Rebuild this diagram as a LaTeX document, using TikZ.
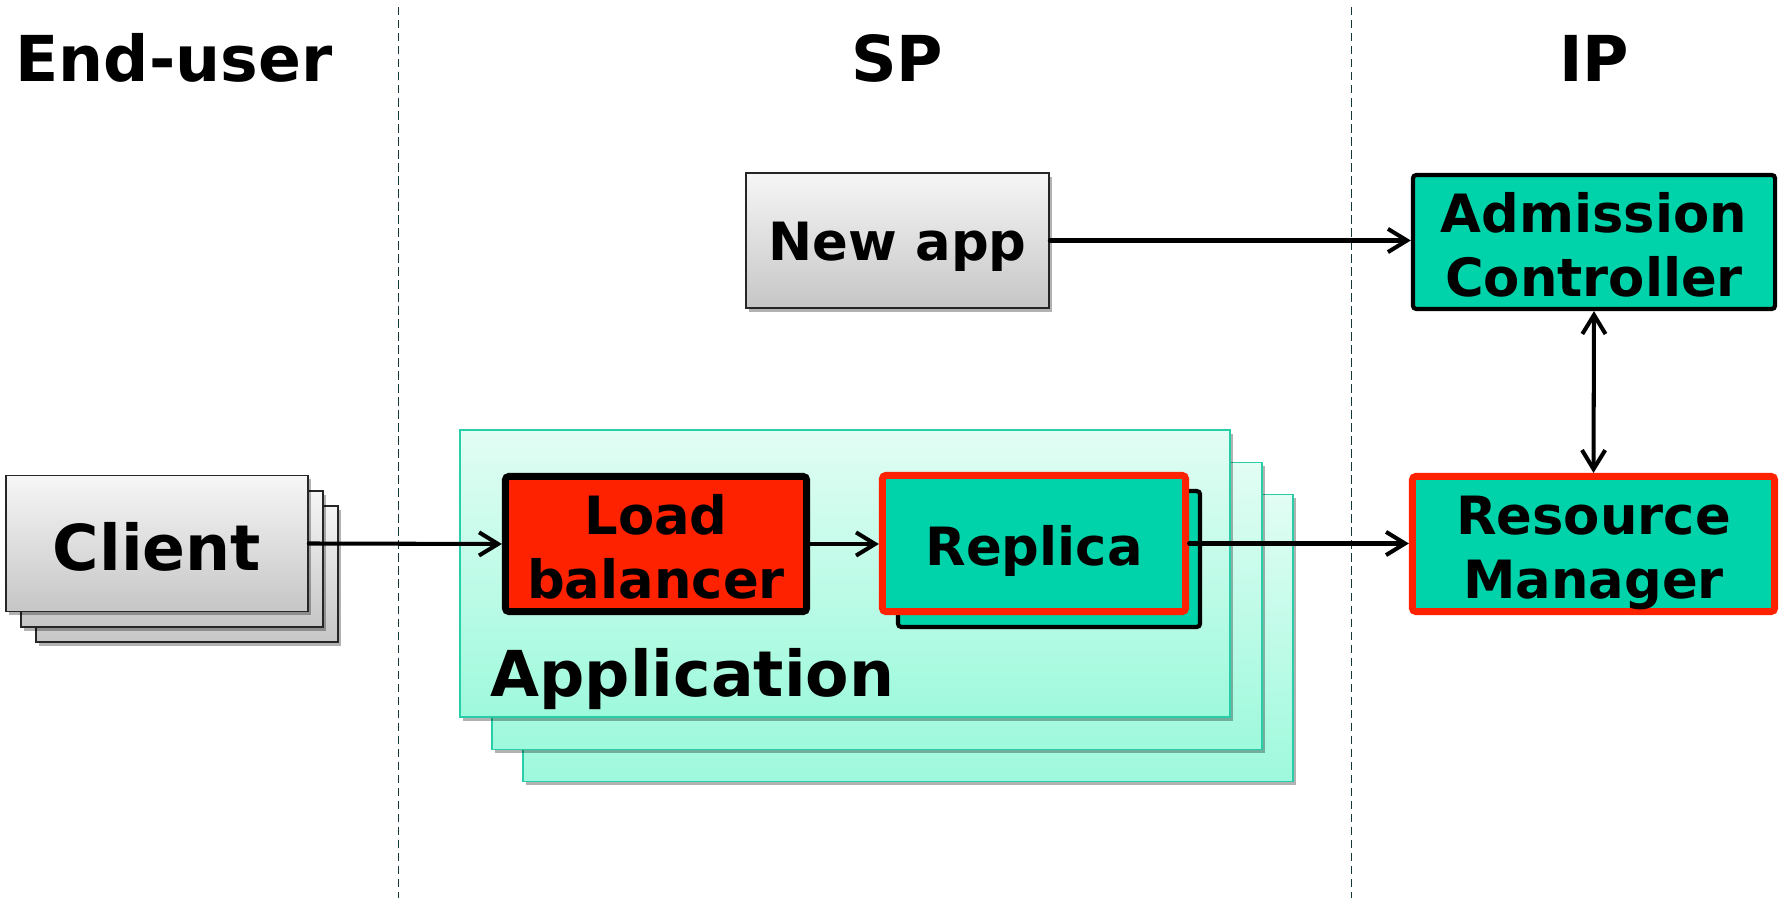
\documentclass[tikz,border=0pt]{standalone}
\usepackage{fontspec}
\setmainfont{DejaVu Sans}
\usetikzlibrary{arrows.meta,shadows}
\definecolor{tealfill}{RGB}{0,211,170}
\definecolor{hotred}{RGB}{255,34,0}
\definecolor{apptop}{RGB}{226,253,244}
\definecolor{appbot}{RGB}{158,249,220}
\definecolor{appedge}{RGB}{40,206,168}
\definecolor{greytop}{RGB}{246,246,246}
\definecolor{greybot}{RGB}{198,198,198}
\definecolor{sepline}{RGB}{20,55,55}
\tikzset{
  bigtext/.style={font=\fontsize{18}{22}\selectfont\bfseries},
  midtext/.style={font=\fontsize{15}{18.2}\selectfont\bfseries, align=center},
  softshadow/.style={drop shadow={shadow xshift=0.9pt, shadow yshift=-1.1pt, opacity=0.3, fill=black}},
  greybox/.style={draw=black!85, line width=0.45pt, top color=greytop, bottom color=greybot,
    softshadow, inner sep=0pt, minimum width=3.02cm, minimum height=1.36cm},
  appbox/.style={draw=appedge, line width=0.45pt, top color=apptop, bottom color=appbot,
    softshadow, inner sep=0pt, minimum width=7.70cm, minimum height=2.87cm},
  redbox/.style={draw=black, line width=2pt, fill=hotred, rounded corners=1pt, inner sep=0pt},
  tealbox/.style={fill=tealfill, rounded corners=1pt, inner sep=0pt},
  barb/.tip={Straight Barb[length=5.4pt,width=6.6pt]},
  arr/.style={line width=1.15pt, line cap=round, -barb},
  dblarr/.style={line width=1.15pt, line cap=round, barb-barb},
  divider/.style={draw=sepline, line width=0.45pt, dash pattern=on 2.4pt off 1.3pt}
}
\begin{document}
\begin{tikzpicture}[x=0.01cm, y=-0.01cm]
\useasboundingbox (0,0) rectangle (1785,898);

% column separators
\coordinate (d1t) at (398.5,7);  \coordinate (d1b) at (398.5,898);
\coordinate (d2t) at (1351.5,7); \coordinate (d2b) at (1351.5,898);
\draw[divider] (d1t) -- (d1b);
\draw[divider] (d2t) -- (d2b);

% column headings
\node[bigtext, anchor=base] (hEnd) at (174,82) {End-user};
\node[bigtext, anchor=base] (hSP)  at (897,82) {SP};
\node[bigtext, anchor=base] (hIP)  at (1594,82) {IP};

% client stack
\node[greybox] (client3) at (187,574) {};
\node[greybox] (client2) at (172,559) {};
\node[greybox] (client) at (157,543.5) {};
\node[bigtext] (clienttxt) at ([yshift=-0.035cm]client.center) {Client};

% application stack
\node[appbox] (app3) at (908,638) {};
\node[appbox] (app2) at (877,606) {};
\node[appbox] (app)  at (845,573.5) {};
\node[bigtext, anchor=base west] (applabel) at (478,697) {Application};

% load balancer
\node[redbox, minimum width=3.01cm, minimum height=1.35cm] (lb) at (656,544) {};
\node[midtext] (lbtxt) at ([yshift=-0.025cm]lb.center) {Load\\balancer};

% replicas
\node[tealbox, draw=black, line width=1.2pt, minimum width=3.02cm, minimum height=1.36cm] (rep2) at (1049,559) {};
\node[tealbox, draw=hotred, line width=2pt, minimum width=3.03cm, minimum height=1.36cm] (rep) at (1034,543.5) {};
\node[midtext] (reptxt) at ([yshift=-0.07cm]rep.center) {Replica};

% new application request
\node[greybox, minimum width=3.03cm, minimum height=1.35cm] (newapp) at (897.5,240.5) {};
\node[midtext] (newapptxt) at ([yshift=-0.06cm]newapp.center) {New app};

% infrastructure provider
\node[tealbox, draw=black, line width=1.2pt, minimum width=3.62cm, minimum height=1.34cm] (adm) at (1594,242) {};
\node[midtext] (admtxt) at ([yshift=-0.025cm]adm.center) {Admission\\Controller};
\node[tealbox, draw=hotred, line width=2pt, minimum width=3.62cm, minimum height=1.35cm] (rm) at (1593.5,544) {};
\node[midtext] (rmtxt) at ([yshift=-0.09cm]rm.center) {Resource\\Manager};

% connectors
\draw[arr] (client.east) -- (lb.west);
\draw[arr] (lb.east) -- (lb.east -| rep.west);
\draw[arr] (rep.east) -- (rep.east -| rm.west);
\draw[arr] (newapp.east) -- (newapp.east -| adm.west);
\draw[dblarr] (adm.south) -- (rm.north);
\end{tikzpicture}
\end{document}
